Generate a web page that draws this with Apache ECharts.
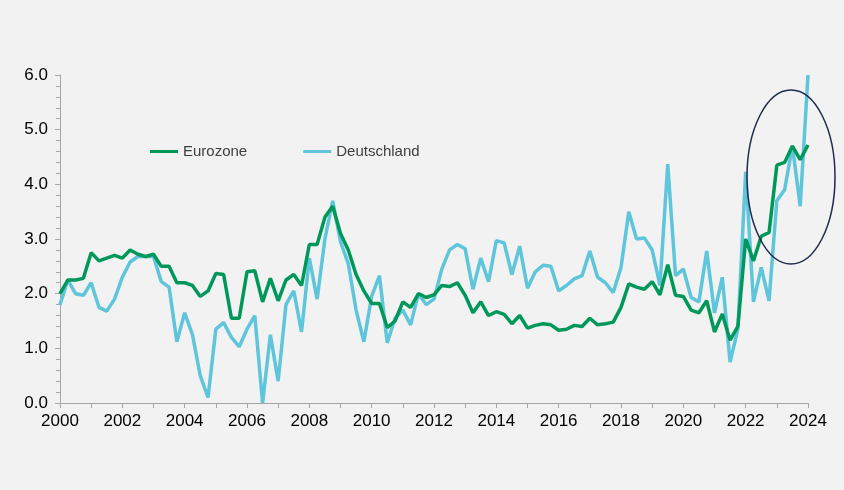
<!DOCTYPE html>
<html><head><meta charset="utf-8">
<script src="https://cdn.jsdelivr.net/npm/echarts@6/dist/echarts.min.js"></script>
<style>html,body{margin:0;background:#f2f2f2}#c{width:844px;height:490px}</style>
</head><body><div id="c"></div>
<script>
const eurozone=[2.0,2.25,2.25,2.28,2.75,2.6,2.65,2.7,2.65,2.8,2.72,2.68,2.72,2.5,2.5,2.2,2.2,2.15,1.95,2.05,2.37,2.35,1.55,1.55,2.4,2.42,1.85,2.28,1.87,2.25,2.35,2.15,2.9,2.9,3.4,3.6,3.1,2.8,2.35,2.05,1.82,1.82,1.38,1.5,1.85,1.75,2.0,1.93,1.98,2.15,2.13,2.2,1.97,1.65,1.85,1.6,1.67,1.62,1.45,1.6,1.37,1.42,1.45,1.43,1.33,1.35,1.42,1.4,1.55,1.43,1.45,1.48,1.75,2.18,2.12,2.08,2.22,1.98,2.53,1.97,1.95,1.7,1.65,1.87,1.3,1.63,1.15,1.4,3.0,2.6,3.05,3.12,4.35,4.4,4.7,4.45,4.72];
const deutschland=[1.8,2.25,2.0,1.97,2.2,1.75,1.68,1.9,2.3,2.58,2.68,2.68,2.68,2.22,2.12,1.12,1.65,1.25,0.5,0.1,1.35,1.47,1.2,1.03,1.35,1.6,0.0,1.25,0.4,1.8,2.05,1.3,2.65,1.9,3.0,3.7,2.95,2.55,1.7,1.12,1.95,2.33,1.1,1.55,1.7,1.43,2.0,1.8,1.9,2.45,2.8,2.9,2.82,2.08,2.65,2.22,2.97,2.93,2.35,2.87,2.1,2.4,2.52,2.5,2.05,2.15,2.27,2.33,2.78,2.3,2.2,2.02,2.48,3.5,3.0,3.02,2.8,2.15,4.37,2.33,2.45,1.93,1.85,2.78,1.65,2.3,0.75,1.35,4.23,1.85,2.48,1.87,3.7,3.9,4.7,3.6,6.0];
const categories=[];
for(let y=2000;y<=2024;y++){for(let q=1;q<=4;q++){if(y===2024&&q>1)break;categories.push(q===1?String(y):y+'Q'+q);}}
const chart=echarts.init(document.getElementById('c'));
chart.setOption({
  backgroundColor:'#f2f2f2',
  animation:false,
  grid:{left:60,right:36,top:75,bottom:87},
  legend:{left:145,top:139,itemWidth:28,itemHeight:3,itemGap:56,icon:'rect',
    textStyle:{fontFamily:'Liberation Sans',fontSize:15,color:'#404040'},
    data:['Eurozone','Deutschland']},
  xAxis:{type:'category',data:categories,boundaryGap:false,
    axisLine:{lineStyle:{color:'#a6a6a6'}},
    axisTick:{interval:3,length:5,lineStyle:{color:'#a6a6a6'}},
    axisLabel:{interval:7,formatter:v=>v,fontFamily:'Liberation Sans',fontSize:17,color:'#000',margin:10}},
  yAxis:{type:'value',min:0,max:6,interval:1,
    axisLine:{show:true,lineStyle:{color:'#a6a6a6'}},
    axisTick:{show:true,length:5,lineStyle:{color:'#a6a6a6'}},
    minorTick:{show:true,splitNumber:5,length:4,lineStyle:{color:'#a6a6a6'}},
    splitLine:{show:false},
    axisLabel:{formatter:v=>v.toFixed(1),fontFamily:'Liberation Sans',fontSize:17,color:'#000',margin:12}},
  series:[
    {name:'Eurozone',type:'line',data:eurozone,symbol:'none',lineStyle:{width:3.5,color:'#00985a'},itemStyle:{color:'#00985a'},z:3},
    {name:'Deutschland',type:'line',data:deutschland,symbol:'none',lineStyle:{width:3.5,color:'#5fc5db'},itemStyle:{color:'#5fc5db'},z:2}
  ],
  graphic:[{type:'ellipse',shape:{cx:791,cy:177,rx:44,ry:87},style:{fill:'none',stroke:'#1f2a4d',lineWidth:1.5},z:10}]
});
</script></body></html>
